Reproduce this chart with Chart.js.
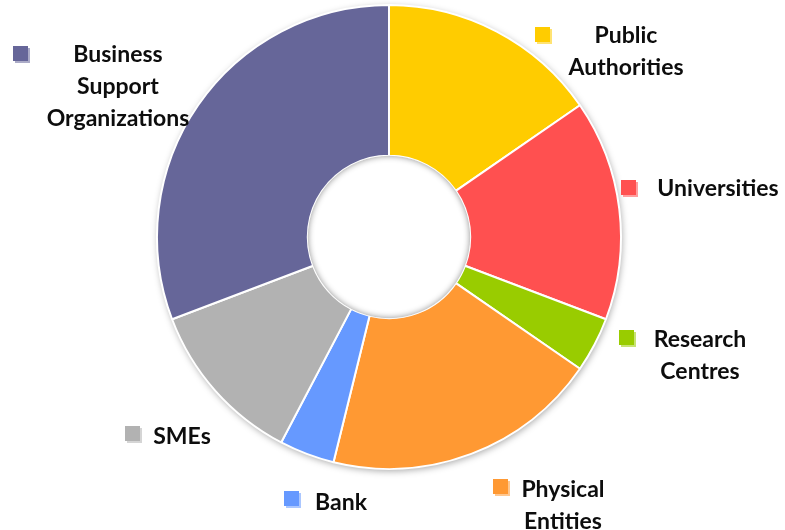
<!DOCTYPE html>
<html>
<head>
<meta charset="utf-8">
<script src="https://cdn.jsdelivr.net/npm/chart.js@4"></script>
<style>
  html, body { margin: 0; padding: 0; background: #fff; }
  #wrap { width: 785px; height: 530px; position: relative; }
</style>
</head>
<body>
<div id="wrap"><canvas id="chart" width="785" height="530"></canvas></div>
<script>
// categories, clockwise from 12 o'clock
const CATEGORIES = ['Public Authorities', 'Universities', 'Research Centres', 'Physical Entities', 'Bank', 'SMEs', 'Business Support Organizations'];
const COUNTS = [4, 4, 1, 5, 1, 3, 8];
const COLORS = ['#ffcc00', '#ff5050', '#99cc00', '#ff9933', '#6699ff', '#b2b2b2', '#666699'];

// label layout: lines, text centre x, first line y, marker top-left
const LABEL_LINES = [['Public', 'Authorities'], ['Universities'], ['Research', 'Centres'], ['Physical', 'Entities'], ['Bank'], ['SMEs'], ['Business', 'Support', 'Organizations']];
const LABEL_LAYOUT = [
  { x: 626, y: 36, mx: 535, my: 27 },
  { x: 718, y: 189, mx: 621, my: 180 },
  { x: 700, y: 340, mx: 619, my: 330 },
  { x: 563, y: 490, mx: 493, my: 479 },
  { x: 341, y: 503, mx: 284, my: 491 },
  { x: 182, y: 437, mx: 125, my: 426 },
  { x: 118, y: 55, mx: 13, my: 46 },
];

function lighten(hex, amt) {
  const n = parseInt(hex.slice(1), 16);
  const c = [(n >> 16) & 255, (n >> 8) & 255, n & 255].map((v) => Math.round(v + (255 - v) * amt));
  return `rgb(${c[0]},${c[1]},${c[2]})`;
}

const ringShadow = {
  id: 'ringShadow',
  beforeDatasetsDraw(chart) {
    const arc = chart.getDatasetMeta(0).data[0];
    if (!arc) return;
    const { ctx } = chart;
    ctx.save();
    ctx.beginPath();
    ctx.arc(arc.x, arc.y, arc.outerRadius, 0, Math.PI * 2);
    ctx.shadowColor = 'rgba(0,0,0,0.35)';
    ctx.shadowBlur = 7;
    ctx.shadowOffsetX = 1;
    ctx.shadowOffsetY = 2;
    ctx.fillStyle = '#fff';
    ctx.fill();
    ctx.restore();
  },
  afterDatasetsDraw(chart) {
    const arc = chart.getDatasetMeta(0).data[0];
    if (!arc) return;
    const { ctx } = chart;
    const r = arc.innerRadius;
    ctx.save();
    ctx.beginPath();
    ctx.arc(arc.x, arc.y, r, 0, Math.PI * 2);
    ctx.clip();
    ctx.fillStyle = '#fff';
    ctx.fill();
    // inset shadow along the hole edge
    ctx.beginPath();
    ctx.arc(arc.x, arc.y, r + 10, 0, Math.PI * 2);
    ctx.lineWidth = 20;
    ctx.strokeStyle = '#fff';
    ctx.shadowColor = 'rgba(0,0,0,0.45)';
    ctx.shadowBlur = 6;
    ctx.stroke();
    ctx.restore();
  },
};

const sideLabels = {
  id: 'sideLabels',
  afterDraw(chart) {
    const { ctx } = chart;
    ctx.save();
    ctx.font = 'bold 23px Lato, "Open Sans", sans-serif';
    ctx.textAlign = 'center';
    ctx.textBaseline = 'middle';
    LABEL_LAYOUT.forEach((pos, i) => {
      const color = COLORS[i];
      ctx.fillStyle = lighten(color, 0.45);
      ctx.fillRect(pos.mx + 2, pos.my + 2, 15, 15);
      ctx.fillStyle = color;
      ctx.fillRect(pos.mx, pos.my, 15, 15);
      ctx.fillStyle = '#0d0d0d';
      LABEL_LINES[i].forEach((line, j) => {
        ctx.fillText(line, pos.x, pos.y + j * 32);
      });
    });
    ctx.restore();
  },
};

new Chart(document.getElementById('chart'), {
  type: 'doughnut',
  data: {
    labels: CATEGORIES,
    datasets: [{
      data: COUNTS,
      backgroundColor: COLORS,
      borderColor: '#fff',
      borderWidth: 2,
    }],
  },
  options: {
    responsive: false,
    animation: false,
    cutout: '35%',
    layout: { padding: { top: 4, bottom: 60, left: 156, right: 163 } },
    plugins: {
      legend: { display: false },
      tooltip: { enabled: false },
    },
  },
  plugins: [ringShadow, sideLabels],
});
</script>
</body>
</html>
